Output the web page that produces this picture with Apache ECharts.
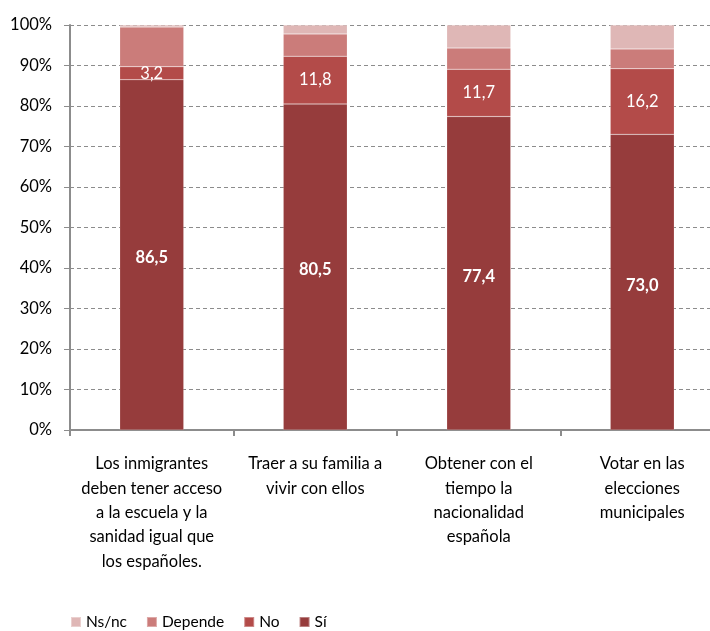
<!DOCTYPE html>
<html><head><meta charset="utf-8">
<script src="https://cdn.jsdelivr.net/npm/echarts@6/dist/echarts.min.js"></script>
<style>html,body{margin:0;padding:0;background:#fff}#c{width:710px;height:631px}</style>
</head><body><div id="c"></div>
<script>
var categories = [
  "Los inmigrantes\ndeben tener acceso\na la escuela y la\nsanidad igual que\nlos españoles.",
  "Traer a su familia a\nvivir con ellos",
  "Obtener con el\ntiempo la\nnacionalidad\nespañola",
  "Votar en las\nelecciones\nmunicipales"
];
var si = [86.5, 80.5, 77.4, 73.0];
var no = [3.2, 11.8, 11.7, 16.2];
var depende = [9.8, 5.5, 5.2, 4.9];
var nsnc = [0.5, 2.2, 5.7, 5.9];
var yTicks = [0, 10, 20, 30, 40, 50, 60, 70, 80, 90, 100];

var FONT = 'Lato';
var fmt = function(p){ return p.value.toFixed(1).replace('.', ','); };
function mk(name, data, color, label){
  return {
    name: name, type: 'bar', stack: 'total', data: data, barWidth: 64,
    itemStyle: { color: color, borderColor: 'rgba(255,255,255,0.35)', borderWidth: 0.5 },
    label: label ? Object.assign({ show: true, position: 'inside', color: '#fff', fontFamily: FONT, fontSize: 16.5, formatter: fmt }, label) : { show: false },
    emphasis: { disabled: true }
  };
}
var chart = echarts.init(document.getElementById('c'));
chart.setOption({
  animation: false,
  textStyle: { fontFamily: FONT },
  grid: { left: 70, top: 25, right: -14, bottom: 201, containLabel: false, outerBoundsMode: 'none' },
  legend: {
    data: ['Ns/nc', 'Depende', 'No', 'Sí'],
    left: 65, top: 609, icon: 'rect', itemWidth: 10, itemHeight: 10, itemGap: 19,
    textStyle: { fontFamily: FONT, fontSize: 15.5, color: '#000' }
  },
  xAxis: {
    type: 'category', data: categories,
    axisLine: { lineStyle: { color: '#8c8c8c', width: 2 } },
    axisTick: { show: true, length: 6, lineStyle: { color: '#8c8c8c', width: 2 } },
    axisLabel: { interval: 0, fontFamily: FONT, fontSize: 16.5, color: '#000', lineHeight: 24.3, margin: 22 }
  },
  yAxis: {
    type: 'value', min: 0, max: 100, interval: 10,
    axisLine: { show: true, lineStyle: { color: '#8c8c8c', width: 2 } },
    axisTick: { show: true, length: 6, lineStyle: { color: '#8c8c8c' } },
    axisLabel: { fontFamily: FONT, fontSize: 16.5, color: '#000', margin: 18,
      formatter: function(v){ return yTicks.indexOf(v) >= 0 ? v + '%' : ''; } },
    splitLine: { show: true, lineStyle: { color: '#8c8c8c', type: [4, 3], width: 1 } }
  },
  series: [
    mk('Sí', si, '#963C3C', { fontWeight: 'bold', offset: [0, 3] }),
    mk('No', no, '#B34B49', {}),
    mk('Depende', depende, '#CB7C7A', null),
    mk('Ns/nc', nsnc, '#DFB7B6', null)
  ]
});
</script></body></html>
